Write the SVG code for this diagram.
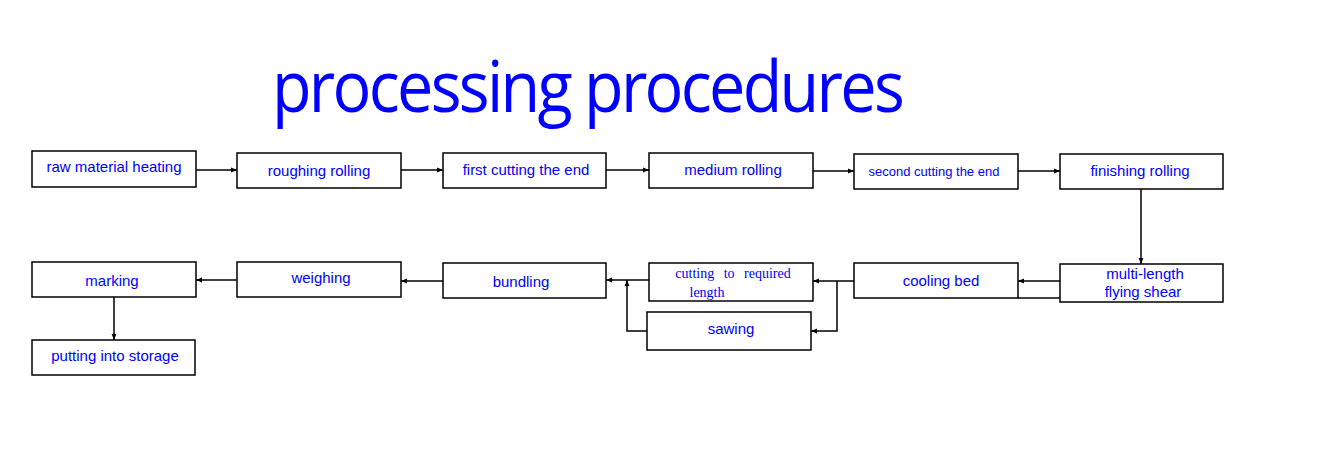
<svg xmlns="http://www.w3.org/2000/svg" width="1337" height="449" viewBox="0 0 1337 449">
<defs>
<marker id="a" viewBox="0 0 10 10" refX="10" refY="5" markerWidth="4" markerHeight="4" orient="auto"><path d="M0,1 L10,5 L0,9 z" fill="#000"/></marker>
<style>
rect{fill:#fff;stroke:#000;stroke-width:1.5}
text{font-family:"Liberation Sans",Arial,sans-serif;fill:#0000ff;font-size:15px;text-anchor:middle}
.c line,.c path{stroke:#000;stroke-width:1.5;fill:none}
</style>
</defs>
<rect x="0" y="0" width="1337" height="449" style="stroke:none"/>
<text x="587" y="112" style="font-family:'Open Sans',sans-serif;font-size:72px;letter-spacing:-3px" textLength="630" lengthAdjust="spacingAndGlyphs">processing procedures</text>
<g class="c">
<line x1="196" y1="170" x2="237" y2="170" marker-end="url(#a)"/>
<line x1="401" y1="170" x2="443" y2="170" marker-end="url(#a)"/>
<line x1="606" y1="170" x2="649" y2="170" marker-end="url(#a)"/>
<line x1="813" y1="171" x2="854" y2="171" marker-end="url(#a)"/>
<line x1="1018" y1="171" x2="1060" y2="171" marker-end="url(#a)"/>
<line x1="1141" y1="189" x2="1141" y2="264" marker-end="url(#a)"/>
<line x1="1060" y1="281" x2="1018" y2="281" marker-end="url(#a)"/>
<line x1="1018" y1="298" x2="1060" y2="298"/>
<line x1="854" y1="281" x2="813" y2="281" marker-end="url(#a)"/>
<path d="M837,281 V331 H811" marker-end="url(#a)"/>
<line x1="649" y1="280" x2="606" y2="280" marker-end="url(#a)"/>
<path d="M647,331 H627 V280" marker-end="url(#a)"/>
<line x1="443" y1="281" x2="401" y2="281" marker-end="url(#a)"/>
<line x1="237" y1="280" x2="196" y2="280" marker-end="url(#a)"/>
<line x1="114" y1="297" x2="114" y2="340" marker-end="url(#a)"/>
</g>
<g id="n1"><rect x="32" y="151" width="164" height="36"/><text x="114" y="172">raw material heating</text></g>
<g id="n2"><rect x="237" y="153" width="164" height="35"/><text x="319" y="176">roughing rolling</text></g>
<g id="n3"><rect x="443" y="153" width="163" height="35"/><text x="526" y="175">first cutting the end</text></g>
<g id="n4"><rect x="649" y="153" width="164" height="35"/><text x="733" y="175">medium rolling</text></g>
<g id="n5"><rect x="854" y="154" width="164" height="35"/><text x="934" y="176" style="font-size:13px">second cutting the end</text></g>
<g id="n6"><rect x="1060" y="154" width="163" height="35"/><text x="1140" y="176">finishing rolling</text></g>
<g id="n7"><rect x="1060" y="264" width="163" height="38"/><text x="1145" y="279">multi-length</text><text x="1143" y="297">flying shear</text></g>
<g id="n8"><rect x="854" y="263" width="164" height="35"/><text x="941" y="286">cooling bed</text></g>
<g id="n9"><rect x="649" y="263" width="164" height="38"/><text x="733" y="278" style="font-family:'Liberation Serif',serif;font-size:14px;word-spacing:6px">cutting to required</text><text x="707" y="297" style="font-family:'Liberation Serif',serif;font-size:14px">length</text></g>
<g id="n10"><rect x="647" y="312" width="164" height="38"/><text x="731" y="334">sawing</text></g>
<g id="n11"><rect x="443" y="263" width="163" height="35"/><text x="521" y="287">bundling</text></g>
<g id="n12"><rect x="237" y="262" width="164" height="35"/><text x="321" y="283">weighing</text></g>
<g id="n13"><rect x="32" y="262" width="164" height="35"/><text x="112" y="286">marking</text></g>
<g id="n14"><rect x="32" y="340" width="163" height="35"/><text x="115" y="361">putting into storage</text></g>
</svg>
